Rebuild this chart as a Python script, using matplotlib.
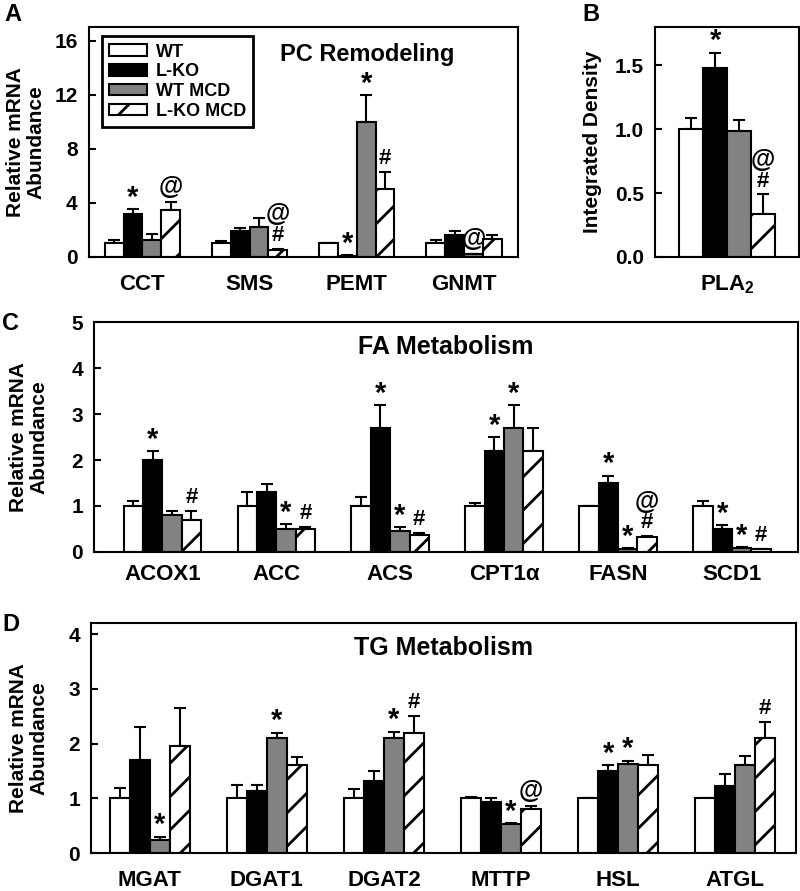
import numpy as np
import matplotlib
matplotlib.use("Agg")
import matplotlib.pyplot as plt

plt.rcParams['font.family'] = ['Liberation Sans', 'DejaVu Sans']
plt.rcParams['font.weight'] = 'bold'
plt.rcParams['mathtext.fontset'] = 'custom'
plt.rcParams['mathtext.rm'] = 'Liberation Sans:bold'
plt.rcParams['mathtext.bf'] = 'Liberation Sans:bold'
plt.rcParams['mathtext.default'] = 'bf'
plt.rcParams['hatch.linewidth'] = 2.0

groups = ["WT", "L-KO", "WT MCD", "L-KO MCD"]

# panel A - PC remodeling
cats_a = ["CCT", "SMS", "PEMT", "GNMT"]
a_wt = [1.03, 1.03, 1.0, 1.03]
a_wt_err = [0.2, 0.15, 0.03, 0.2]
a_lko = [3.2, 1.92, 0.1, 1.6]
a_lko_err = [0.37, 0.25, 0.02, 0.3]
a_wtmcd = [1.25, 2.25, 10.0, 0.22]
a_wtmcd_err = [0.45, 0.65, 2.0, 0.03]
a_lkomcd = [3.5, 0.52, 5.0, 1.33]
a_lkomcd_err = [0.6, 0.1, 1.3, 0.27]
# marks listed bottom -> top
a_marks = [["", "", "", ""], ["*", "", "*", ""], ["", "", "*", "@"], ["@", "#@", "#", ""]]

# panel B - PLA2
cats_b = ["PLA$_2$"]
b_wt, b_wt_err = [1.0], [0.09]
b_lko, b_lko_err = [1.48], [0.12]
b_wtmcd, b_wtmcd_err = [0.99], [0.08]
b_lkomcd, b_lkomcd_err = [0.335], [0.155]
b_marks = [[""], ["*"], [""], ["#@"]]

# panel C - FA metabolism
cats_c = ["ACOX1", "ACC", "ACS", "CPT1\u03b1", "FASN", "SCD1"]
c_wt = [1.0, 1.0, 1.0, 1.0, 1.0, 1.0]
c_wt_err = [0.1, 0.3, 0.2, 0.07, 0.01, 0.1]
c_lko = [2.0, 1.3, 2.7, 2.2, 1.5, 0.5]
c_lko_err = [0.2, 0.17, 0.5, 0.3, 0.16, 0.09]
c_wtmcd = [0.8, 0.5, 0.46, 2.7, 0.07, 0.08]
c_wtmcd_err = [0.1, 0.1, 0.08, 0.5, 0.02, 0.02]
c_lkomcd = [0.7, 0.5, 0.38, 2.2, 0.32, 0.06]
c_lkomcd_err = [0.2, 0.05, 0.04, 0.5, 0.03, 0.01]
c_marks = [[""] * 6, ["*", "", "*", "*", "*", "*"], ["", "*", "*", "*", "*", "*"],
           ["#", "#", "#", "", "#@", "#"]]

# panel D - TG metabolism
cats_d = ["MGAT", "DGAT1", "DGAT2", "MTTP", "HSL", "ATGL"]
d_wt = [1.0, 1.0, 1.0, 1.0, 1.0, 1.0]
d_wt_err = [0.19, 0.24, 0.17, 0.02, 0.01, 0.01]
d_lko = [1.7, 1.14, 1.31, 0.93, 1.5, 1.23]
d_lko_err = [0.61, 0.11, 0.18, 0.07, 0.11, 0.22]
d_wtmcd = [0.23, 2.1, 2.1, 0.53, 1.63, 1.6]
d_wtmcd_err = [0.07, 0.1, 0.12, 0.02, 0.06, 0.18]
d_lkomcd = [1.95, 1.6, 2.2, 0.8, 1.61, 2.11]
d_lkomcd_err = [0.7, 0.15, 0.3, 0.06, 0.19, 0.28]
d_marks = [[""] * 6, ["", "", "", "", "*", ""], ["*", "*", "*", "*", "*", ""],
           ["", "", "#", "@", "", "#"]]

styles = [dict(facecolor='white', hatch=None),
          dict(facecolor='black', hatch=None),
          dict(facecolor='#828282', hatch=None),
          dict(facecolor='white', hatch='/')]

mark_size = {"*": 21, "@": 18, "#": 16}
mark_step = {"*": 14, "@": 16, "#": 14}


def draw_panel(ax, cats, series, errs, marks, width, xlim, ylim, yticks, pad=10):
    x = np.arange(len(cats))
    for i, (vals, err) in enumerate(zip(series, errs)):
        pos = x + (i - 1.5) * width
        ax.bar(pos, vals, width, edgecolor='black', linewidth=1.5,
               label=groups[i], zorder=2, **styles[i])
        ax.errorbar(pos, vals, yerr=[np.zeros(len(vals)), err], fmt='none',
                    ecolor='black', elinewidth=1.5, capsize=4, capthick=1.5, zorder=1)
        for p, v, e, m in zip(pos, vals, err, marks[i]):
            off = 2
            for ch in m:
                ax.annotate(ch, (p, v + e), xytext=(0, off - (4 if ch == "*" else 0)),
                            textcoords='offset points', ha='center', va='bottom',
                            fontsize=mark_size[ch], fontweight='bold')
                off += mark_step[ch]
    ax.set_xticks(x)
    ax.set_xticklabels(cats, fontsize=16)
    ax.set_xlim(*xlim)
    ax.set_ylim(*ylim)
    ax.set_yticks(yticks)
    ax.tick_params(axis='y', direction='in', labelsize=15, length=5, width=1.5, pad=8)
    ax.tick_params(axis='x', direction='in', length=5, width=1.5, pad=pad)
    for s in ax.spines.values():
        s.set_linewidth(1.5)


fig = plt.figure(figsize=(8, 8.91), dpi=100)

ax_a = fig.add_axes([0.111, 0.7116, 0.536, 0.258])
draw_panel(ax_a, cats_a, [a_wt, a_lko, a_wtmcd, a_lkomcd],
           [a_wt_err, a_lko_err, a_wtmcd_err, a_lkomcd_err], a_marks,
           0.175, (-0.5, 3.5), (0, 17), [0, 4, 8, 12, 16], pad=12)
ax_a.set_ylabel("Relative mRNA\nAbundance", fontsize=15, fontweight='bold', linespacing=1.1)
ax_a.yaxis.set_label_coords(-0.1, 0.5)
ax_a.text(0.65, 0.88, "PC Remodeling", transform=ax_a.transAxes, ha='center',
          va='center', fontsize=17, fontweight='bold')
leg = ax_a.legend(loc='upper left', bbox_to_anchor=(0.03, 0.96), borderaxespad=0,
                  fancybox=False, edgecolor='black', fontsize=13, handlelength=2.1,
                  handleheight=0.6, labelspacing=0.15, borderpad=0.4, handletextpad=0.5,
                  framealpha=1)
leg.get_frame().set_linewidth(2)

ax_b = fig.add_axes([0.819, 0.7116, 0.18, 0.258])
draw_panel(ax_b, cats_b, [b_wt, b_lko, b_wtmcd, b_lkomcd],
           [b_wt_err, b_lko_err, b_wtmcd_err, b_lkomcd_err], b_marks,
           0.167, (-0.5, 0.5), (0, 1.8), [0.0, 0.5, 1.0, 1.5], pad=12)
ax_b.set_yticklabels(["0.0", "0.5", "1.0", "1.5"])
ax_b.set_ylabel("Integrated Density", fontsize=15, fontweight='bold')
ax_b.yaxis.set_label_coords(-0.37, 0.5)

ax_c = fig.add_axes([0.1175, 0.3805, 0.88, 0.258])
draw_panel(ax_c, cats_c, [c_wt, c_lko, c_wtmcd, c_lkomcd],
           [c_wt_err, c_lko_err, c_wtmcd_err, c_lkomcd_err], c_marks,
           0.17, (-0.6, 5.58), (0, 5), [0, 1, 2, 3, 4, 5], pad=9)
ax_c.set_ylabel("Relative mRNA\nAbundance", fontsize=15, fontweight='bold', linespacing=1.1)
ax_c.yaxis.set_label_coords(-0.065, 0.5)
ax_c.text(0.5, 0.89, "FA Metabolism", transform=ax_c.transAxes, ha='center',
          va='center', fontsize=18, fontweight='bold')

ax_d = fig.add_axes([0.114, 0.0426, 0.881, 0.258])
draw_panel(ax_d, cats_d, [d_wt, d_lko, d_wtmcd, d_lkomcd],
           [d_wt_err, d_lko_err, d_wtmcd_err, d_lkomcd_err], d_marks,
           0.17, (-0.5, 5.52), (0, 4.2), [0, 1, 2, 3, 4], pad=12)
ax_d.set_ylabel("Relative mRNA\nAbundance", fontsize=15, fontweight='bold', linespacing=1.1)
ax_d.yaxis.set_label_coords(-0.061, 0.5)
ax_d.text(0.5, 0.89, "TG Metabolism", transform=ax_d.transAxes, ha='center',
          va='center', fontsize=18, fontweight='bold')

for lbl, xx, yy in [("A", 0.005, 0.997), ("B", 0.728, 0.997), ("C", 0.003, 0.65), ("D", 0.003, 0.312)]:
    fig.text(xx, yy, lbl, fontsize=17, fontweight='bold', ha='left', va='top')

fig.savefig("out.png", dpi=100)
